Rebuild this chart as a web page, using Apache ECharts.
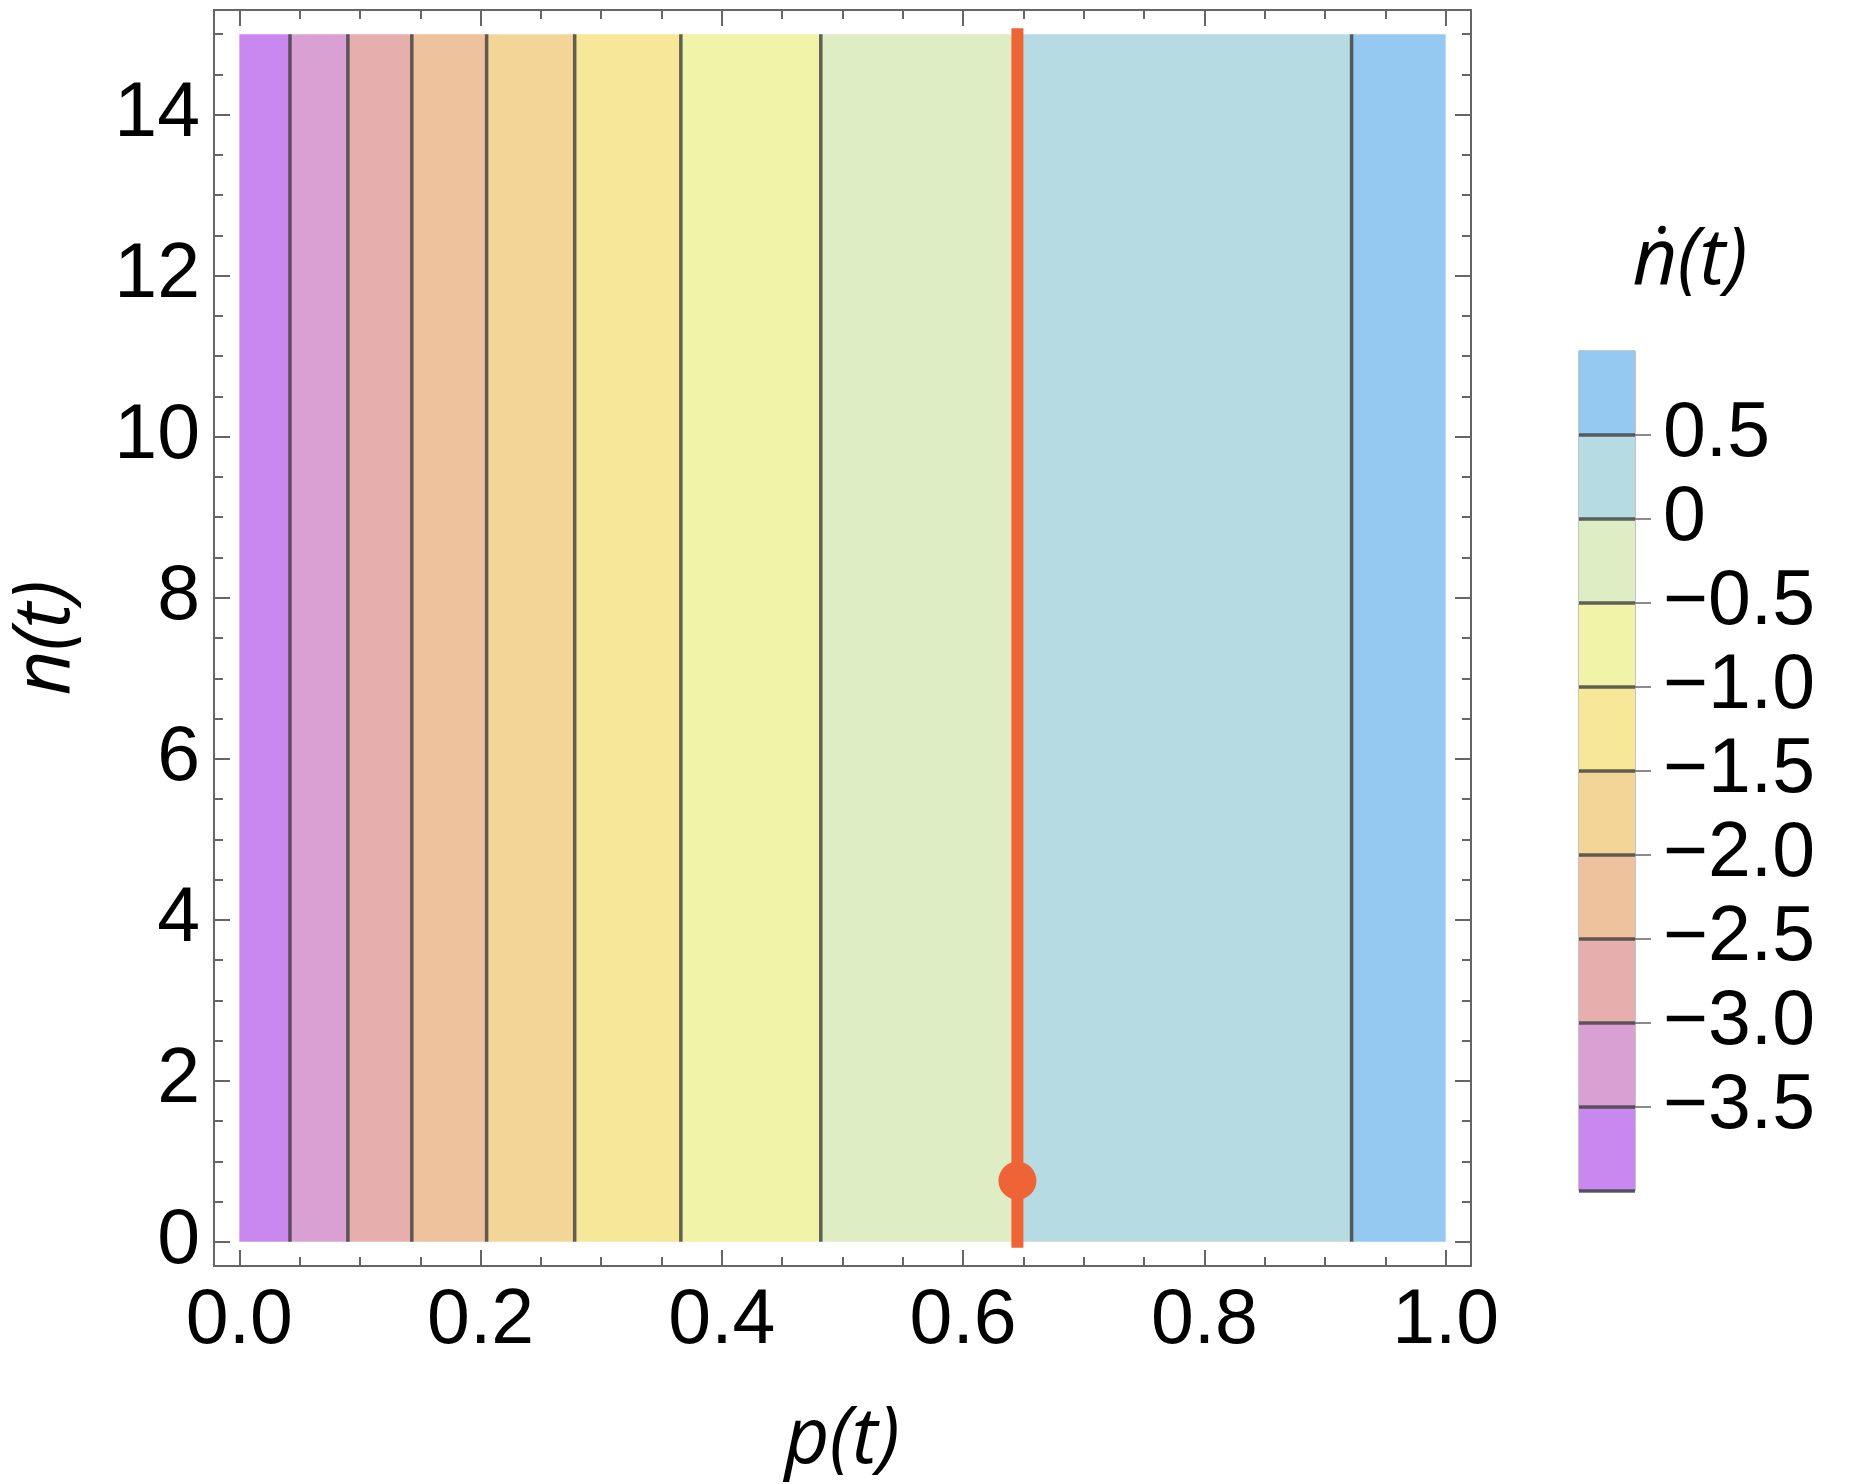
<!DOCTYPE html>
<html>
<head>
<meta charset="utf-8">
<title>n-dot contour</title>
<script src="https://cdn.jsdelivr.net/npm/echarts@6.0.0/dist/echarts.min.js"></script>
<style>html, body {margin: 0; padding: 0; background: #fff;} #main {width: 1851px; height: 1484px;}</style>
</head>
<body>
<div id="main"></div>
<script type="text/javascript">
// contour band edges along p(t), one colour per band (lowest level first)
var pEdges = [0, 0.042, 0.090, 0.143, 0.205, 0.278, 0.366, 0.482, 0.645, 0.922, 1.0];
var levelEdges = [-4.0, -3.5, -3.0, -2.5, -2.0, -1.5, -1.0, -0.5, 0, 0.5, 1.0];
var bandColors = ['#C888F0', '#D9A0D4', '#E6AFAE', '#EDC29C', '#F3D598',
                  '#F6E898', '#F0F3A8', '#DEEDC3', '#B6DBE3', '#96C9F2'];
var levelTicks = [-3.5, -3.0, -2.5, -2.0, -1.5, -1.0, -0.5, 0, 0.5];

// equilibrium line and point
var pEq = 0.645;
var nPoint = 0.76;
var nRange = [0, 15];

// tick positions
var pTicks = [0, 0.2, 0.4, 0.6, 0.8, 1.0];
var pMinor = [0.05, 0.1, 0.15, 0.25, 0.3, 0.35, 0.45, 0.5, 0.55, 0.65, 0.7, 0.75, 0.85, 0.9, 0.95];
var nTicks = [0, 2, 4, 6, 8, 10, 12, 14];
var nMinor = [0.5, 1, 1.5, 2.5, 3, 3.5, 4.5, 5, 5.5, 6.5, 7, 7.5, 8.5, 9, 9.5,
              10.5, 11, 11.5, 12.5, 13, 13.5, 14.5, 15];

var frameGrey = '#666666';
var contourStroke = 'rgba(60,60,60,0.8)';
var orange = '#EE6436';
var tickFont = 'Liberation Sans';

function frameAxis(pos, values, len, withLabels, fmt) {
  var ax = {
    gridIndex: 0,
    type: 'value',
    position: pos,
    axisLine: {show: false, onZero: false},
    splitLine: {show: false},
    axisTick: {show: true, inside: true, length: len, customValues: values,
               lineStyle: {color: frameGrey, width: 2}},
    axisLabel: {show: false}
  };
  if (withLabels) {
    ax.axisLabel = {show: true, customValues: values, formatter: fmt,
                    fontSize: 77, fontFamily: tickFont, color: '#000', margin: 17};
  }
  return ax;
}

function xFrame(pos, values, len, withLabels) {
  var ax = frameAxis(pos, values, len, withLabels, function (v) { return v.toFixed(1); });
  ax.min = -0.021; ax.max = 1.021;
  return ax;
}
function yFrame(pos, values, len, withLabels) {
  var ax = frameAxis(pos, values, len, withLabels, function (v) { return String(v); });
  ax.min = -0.3; ax.max = 15.3;
  if (withLabels) ax.axisLabel.margin = 14;
  return ax;
}

var bandData = [];
for (var i = 0; i < bandColors.length; i++) {
  bandData.push([pEdges[i], pEdges[i + 1], i, levelEdges[i], levelEdges[i + 1]]);
}
var contourData = pEdges.slice(1, pEdges.length - 1).map(function (p) { return [p, 0]; });
var barLines = levelEdges.slice(0, levelEdges.length - 1).map(function (l) { return [0, l]; });

var myChart = echarts.init(document.getElementById('main'));
var option = {
  animation: false,
  grid: [
    {left: 214, top: 10, width: 1257, height: 1256, show: true,
     borderColor: frameGrey, borderWidth: 2, backgroundColor: 'transparent'},
    {left: 1579, top: 351, width: 56, height: 840, show: true,
     borderColor: '#888888', borderWidth: 1, backgroundColor: 'transparent'}
  ],
  xAxis: [
    xFrame('bottom', pTicks, 16, true),
    xFrame('bottom', pMinor, 9, false),
    xFrame('top', pTicks, 16, false),
    xFrame('top', pMinor, 9, false),
    {gridIndex: 1, type: 'value', min: 0, max: 1, show: false, axisLine: {onZero: false}}
  ],
  yAxis: [
    yFrame('left', nTicks, 16, true),
    yFrame('left', nMinor, 9, false),
    yFrame('right', nTicks, 16, false),
    yFrame('right', nMinor, 9, false),
    {gridIndex: 1, type: 'value', min: -4, max: 1, position: 'right',
     axisLine: {show: false, onZero: false}, splitLine: {show: false},
     axisTick: {show: true, inside: false, length: 16, customValues: levelTicks,
                lineStyle: {color: frameGrey, width: 1.5}},
     axisLabel: {show: true, customValues: levelTicks, fontSize: 77, fontFamily: tickFont,
                 color: '#000', margin: 28,
                 formatter: function (v) {
                   if (v === 0) return '0';
                   return v < 0 ? '\u2212' + (-v).toFixed(1) : v.toFixed(1);
                 }}}
  ],
  series: [
    {
      type: 'custom', xAxisIndex: 0, yAxisIndex: 0, z: 1, silent: true,
      data: bandData, encode: {x: [0, 1]},
      renderItem: function (params, api) {
        var a = api.coord([api.value(0), nRange[1]]);
        var b = api.coord([api.value(1), nRange[0]]);
        return {type: 'rect', shape: {x: a[0], y: a[1], width: b[0] - a[0], height: b[1] - a[1]},
                style: {fill: bandColors[api.value(2)]}};
      }
    },
    {
      type: 'custom', xAxisIndex: 0, yAxisIndex: 0, z: 2, silent: true,
      data: contourData, encode: {x: 0},
      renderItem: function (params, api) {
        var a = api.coord([api.value(0), nRange[0]]);
        var b = api.coord([api.value(0), nRange[1]]);
        return {type: 'line', shape: {x1: a[0], y1: a[1], x2: b[0], y2: b[1]},
                style: {stroke: contourStroke, lineWidth: 3.5}};
      }
    },
    {
      type: 'line', xAxisIndex: 0, yAxisIndex: 0, z: 3, silent: true,
      data: [[pEq, nRange[0]], [pEq, nRange[1]]],
      symbol: 'none',
      lineStyle: {color: orange, width: 12, cap: 'square'}
    },
    {
      type: 'scatter', xAxisIndex: 0, yAxisIndex: 0, z: 4, silent: true,
      data: [[pEq, nPoint]], symbolSize: 38,
      itemStyle: {color: orange, opacity: 1}
    },
    {
      type: 'custom', xAxisIndex: 4, yAxisIndex: 4, z: 1, silent: true,
      data: bandData.map(function (d) { return [0, d[3], d[2], d[4]]; }), encode: {x: 0, y: 1},
      renderItem: function (params, api) {
        var a = api.coord([0, api.value(3)]);
        var b = api.coord([1, api.value(1)]);
        return {type: 'rect', shape: {x: a[0], y: a[1], width: b[0] - a[0], height: b[1] - a[1]},
                style: {fill: bandColors[api.value(2)]}};
      }
    },
    {
      type: 'custom', xAxisIndex: 4, yAxisIndex: 4, z: 2, silent: true,
      data: barLines, encode: {x: 0, y: 1},
      renderItem: function (params, api) {
        var a = api.coord([0, api.value(1)]);
        var b = api.coord([1, api.value(1)]);
        return {type: 'line', shape: {x1: a[0], y1: a[1], x2: b[0], y2: b[1]},
                style: {stroke: contourStroke, lineWidth: 3.5}};
      }
    }
  ],
  graphic: [
    {type: 'text', x: 842, y: 1441, style: {text: 'p(t)', fontSize: 78, fontFamily: 'Open Sans',
      fontStyle: 'italic', fill: '#000', align: 'center', verticalAlign: 'middle'}},
    {type: 'text', x: 47, y: 638, rotation: Math.PI / 2, style: {text: 'n(t)', fontSize: 78,
      fontFamily: 'Open Sans', fontStyle: 'italic', fill: '#000', align: 'center', verticalAlign: 'middle'}},
    {type: 'text', x: 1690, y: 262, style: {text: '\u1E45(t)', fontSize: 78, fontFamily: 'Open Sans',
      fontStyle: 'italic', fill: '#000', align: 'center', verticalAlign: 'middle'}}
  ]
};
myChart.setOption(option);
</script>
</body>
</html>
